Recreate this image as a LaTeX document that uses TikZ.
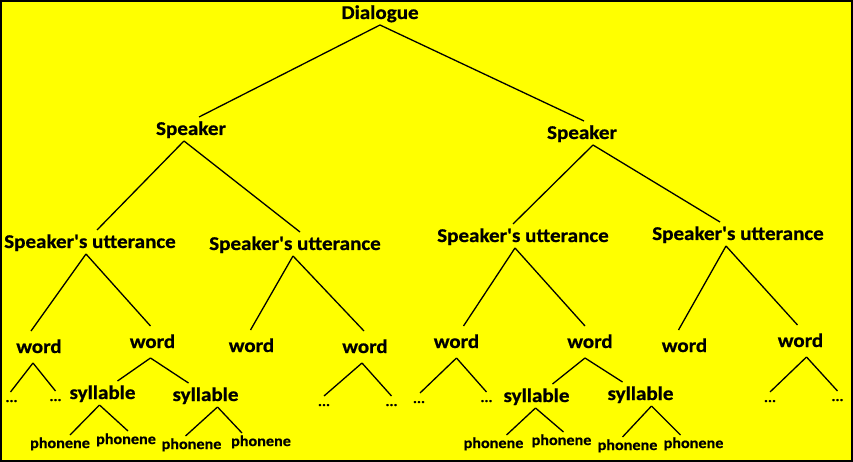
\documentclass[tikz,border=0pt]{standalone}
\usepackage{fontspec}
\usepackage{tikz}
\newfontfamily\lblfont{Carlito}[FakeStretch=1.08,FakeBold=0.7]
\definecolor{bgyellow}{HTML}{FFFF00}
\tikzset{
  lbl/.style={font=\lblfont\bfseries\fontsize{19.5}{19.5}\selectfont, inner sep=0pt,
    outer sep=6pt, text height=12pt, text depth=0pt, anchor=base},
  wrd/.style={lbl, outer sep=10pt},
  phon/.style={lbl, font=\lblfont\bfseries\fontsize{15}{15}\selectfont,
    text height=10pt, outer sep=3pt},
  dots/.style={lbl, font=\lblfont\bfseries\fontsize{14}{14}\selectfont,
    text height=2pt, outer sep=8pt},
  edge/.style={line width=1.3pt}
}
\begin{document}
\begin{tikzpicture}[x=1pt,y=-1pt]
        \useasboundingbox (0,0) rectangle (853,462);
        \fill[bgyellow] (0,0) rectangle (853,462);
        \draw[line width=2pt] (1,1) rectangle (852,461);
        % Top levels
        \node[lbl] (dlg) at (380,19) {Dialogue};
        \node[lbl] (spk1) at (191,135) {Speaker};
        \node[lbl] (spk2) at (582,139) {Speaker};
        \node[lbl] (utt1) at (90,248) {Speaker's utterance};
        \node[lbl] (utt2) at (295,250) {Speaker's utterance};
        \node[lbl] (utt3) at (523,242) {Speaker's utterance};
        \node[lbl] (utt4) at (738,240) {Speaker's utterance};
        % Words
        \node[wrd] (w1) at (39,353) {word};
        \node[wrd] (w2) at (152.5,348) {word};
        \node[wrd] (w3) at (251.5,352) {word};
        \node[wrd] (w4) at (365,353) {word};
        \node[wrd] (w5) at (456.5,348) {word};
        \node[wrd] (w6) at (590,348) {word};
        \node[wrd] (w7) at (684.5,352) {word};
        \node[wrd] (w8) at (800.5,347) {word};
        % Syllables
        \node[lbl] (s1) at (102.5,399) {syllable};
        \node[lbl] (s2) at (205.5,401) {syllable};
        \node[lbl] (s3) at (536.5,402) {syllable};
        \node[lbl] (s4) at (640.5,400) {syllable};
        % Phonenes
        \node[phon] (p1) at (60,448) {phonene};
        \node[phon] (p2) at (126,444) {phonene};
        \node[phon] (p3) at (191.5,449) {phonene};
        \node[phon] (p4) at (261,446) {phonene};
        \node[phon] (p5) at (493.5,448) {phonene};
        \node[phon] (p6) at (561.5,445) {phonene};
        \node[phon] (p7) at (627.5,450) {phonene};
        \node[phon] (p8) at (693.5,448) {phonene};
        % Dots
        \node[dots] (d1) at (11.5,402) {...};
        \node[dots] (d2) at (55.5,401) {...};
        \node[dots] (d3) at (324,406) {...};
        \node[dots] (d4) at (391.5,406) {...};
        \node[dots] (d5) at (419,403) {...};
        \node[dots] (d6) at (486.5,402) {...};
        \node[dots] (d7) at (770,402) {...};
        \node[dots] (d8) at (837.5,401) {...};
        % Branches
        \draw[edge] (dlg.south) -- ([xshift=8pt]spk1.north);
        \draw[edge] (dlg.south) -- ([xshift=2pt]spk2.north);
        \draw[edge] ([xshift=-7pt]spk1.south) -- ([xshift=7pt]utt1.north);
        \draw[edge] ([xshift=-7pt]spk1.south) -- ([xshift=5pt]utt2.north);
        \draw[edge] ([xshift=11pt]spk2.south) -- ([xshift=-10pt]utt3.north);
        \draw[edge] ([xshift=11pt]spk2.south) -- ([xshift=-18pt]utt4.north);
        \draw[edge] ([xshift=-4pt]utt1.south) -- ([xshift=-8pt]w1.north);
        \draw[edge] ([xshift=-4pt]utt1.south) -- ([xshift=-2pt]w2.north);
        \draw[edge] ([xshift=-2pt]utt2.south) -- ([xshift=-1pt]w3.north);
        \draw[edge] ([xshift=-2pt]utt2.south) -- ([xshift=-1pt]w4.north);
        \draw[edge] ([xshift=-8pt]utt3.south) -- ([xshift=7pt]w5.north);
        \draw[edge] ([xshift=-8pt]utt3.south) -- ([xshift=-5pt]w6.north);
        \draw[edge] ([xshift=-12pt]utt4.south) -- ([xshift=-6pt]w7.north);
        \draw[edge] ([xshift=-12pt]utt4.south) -- ([xshift=-3pt]w8.north);
        \draw[edge] ([xshift=-6pt]w1.south) -- ([xshift=-1pt]d1.north);
        \draw[edge] ([xshift=-6pt]w1.south) -- (d2.north);
        \draw[edge] ([xshift=-2pt]w2.south) -- ([xshift=15pt]s1.north);
        \draw[edge] ([xshift=-2pt]w2.south) -- ([xshift=-17pt]s2.north);
        \draw[edge] ([xshift=-3pt]w4.south) -- (d3.north);
        \draw[edge] ([xshift=-3pt]w4.south) -- (d4.north);
        \draw[edge] (w5.south) -- ([xshift=1pt]d5.north);
        \draw[edge] (w5.south) -- (d6.north);
        \draw[edge] ([xshift=-5pt]w6.south) -- ([xshift=16pt]s3.north);
        \draw[edge] ([xshift=-5pt]w6.south) -- ([xshift=-18pt]s4.north);
        \draw[edge] ([xshift=6pt]w8.south) -- (d7.north);
        \draw[edge] ([xshift=6pt]w8.south) -- (d8.north);
        \draw[edge] ([xshift=-3pt]s1.south) -- ([xshift=10pt]p1.north);
        \draw[edge] ([xshift=-3pt]s1.south) -- ([xshift=2pt]p2.north);
        \draw[edge] ([xshift=12pt]s2.south) -- ([xshift=-6pt]p3.north);
        \draw[edge] ([xshift=12pt]s2.south) -- ([xshift=-19pt]p4.north);
        \draw[edge] ([xshift=-1pt]s3.south) -- ([xshift=13pt]p5.north);
        \draw[edge] ([xshift=-1pt]s3.south) -- ([xshift=2pt]p6.north);
        \draw[edge] ([xshift=11pt]s4.south) -- ([xshift=-5pt]p7.north);
        \draw[edge] ([xshift=11pt]s4.south) -- ([xshift=-13pt]p8.north);
      \end{tikzpicture}
\end{document}
